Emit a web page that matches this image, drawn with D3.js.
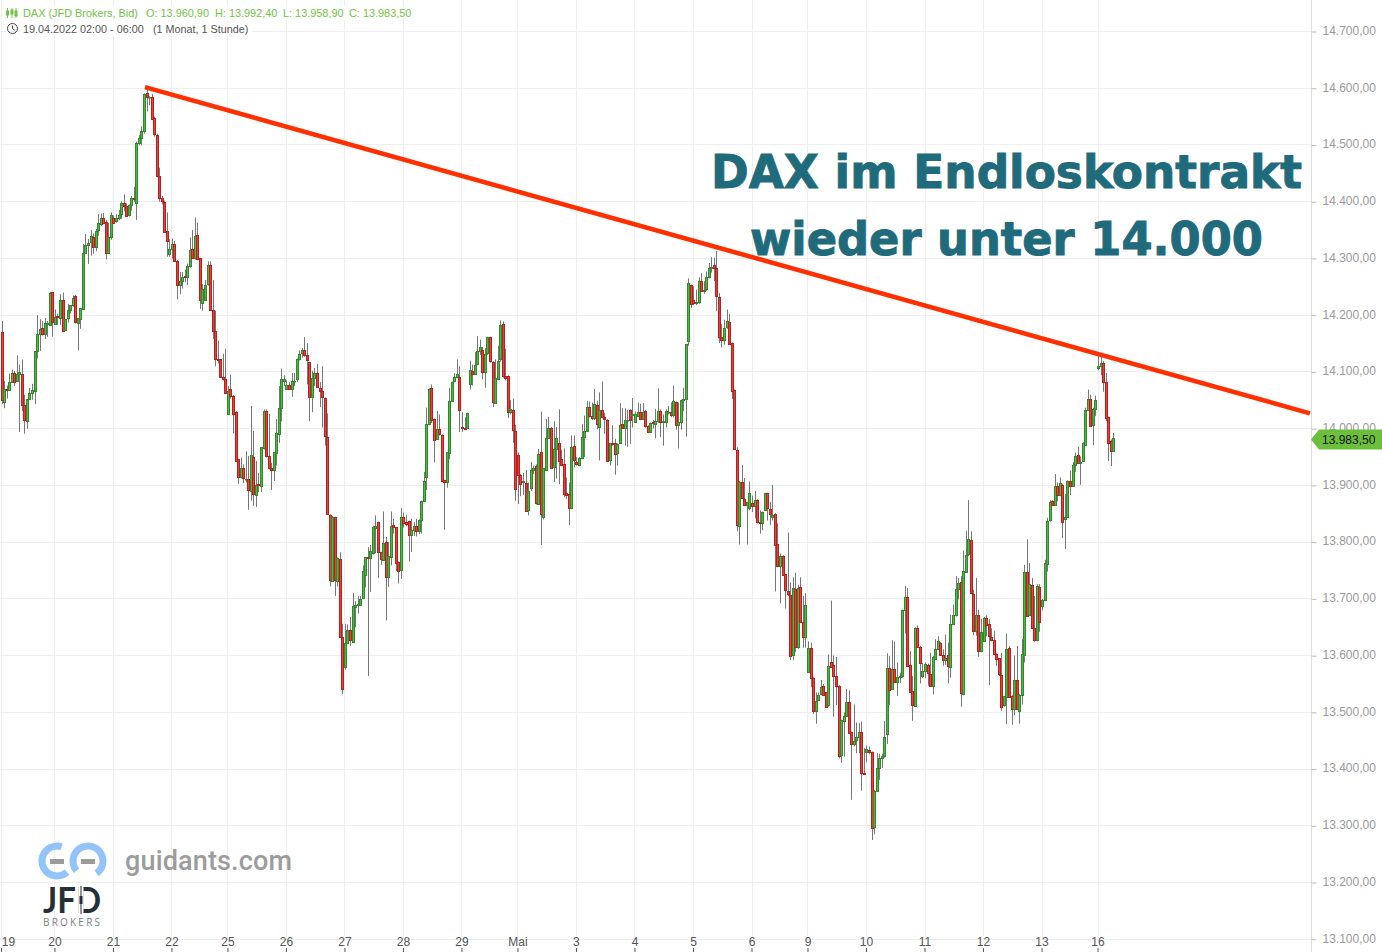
<!DOCTYPE html>
<html><head><meta charset="utf-8">
<script src="https://cdn.jsdelivr.net/npm/d3@7"></script>
<style>html,body{margin:0;padding:0;background:#fff;overflow:hidden}svg{display:block}</style>
</head><body><svg id="c" width="1382" height="952"></svg>
<script>
// each row: [open, high, low, close]
const apr19=[[14170,14190,14043,14050],[14047,14084,14036,14070],[14070,14076,14053,14068],[14068,14097,14068,14082],[14082,14104,14081,14098],[14098,14102,14075,14083],[14083,14129,14083,14096],[14096,14113,13994,14100],[14096,14122,14031,14041],[14041,14060,13991,14015],[14013,14052,14000,14052],[14052,14072,14051,14063],[14063,14079,14051,14068],[14066,14137,14043,14137],[14137,14200,14124,14167],[14167,14193,14137,14176],[14177,14190,14164,14167],[14167,14195,14158,14186],[14186,14190,14162,14187],[14183,14241,14183,14239],[14240,14241,14162,14187]];
const apr20=[[14183,14210,14183,14196],[14198,14203,14183,14197],[14196,14237,14183,14227],[14227,14240,14173,14173],[14173,14193,14173,14193],[14196,14220,14187,14210],[14210,14218,14203,14218],[14218,14235,14215,14231],[14234,14236,14185,14189],[14187,14195,14138,14195],[14193,14212,14176,14212],[14212,14326,14212,14310],[14310,14343,14309,14324],[14324,14334,14290,14328],[14328,14350,14305,14339],[14337,14344,14308,14320],[14319,14352,14313,14348],[14350,14378,14340,14362],[14362,14379,14357,14372],[14372,14380,14360,14364],[14364,14368,14298,14310],[14309,14363,14308,14338],[14338,14381,14333,14376]];
const apr21=[[14372,14376,14362,14364],[14366,14378,14363,14372],[14372,14385,14368,14377],[14377,14401,14370,14397],[14397,14413,14383,14392],[14393,14397,14375,14376],[14376,14395,14374,14394],[14394,14410,14384,14406],[14407,14426,14400,14405],[14398,14506,14368,14503],[14503,14518,14499,14512],[14512,14533,14499,14524],[14524,14591,14520,14589],[14591,14603,14559,14584],[14584,14586,14570,14584],[14584,14590,14545,14546],[14547,14550,14515,14518],[14517,14520,14443,14445],[14445,14460,14400,14407],[14407,14410,14395,14401],[14400,14402,14345,14348],[14348,14381,14303,14331],[14309,14334,14303,14317]];
const apr22=[[14317,14335,14300,14326],[14326,14331,14296,14296],[14296,14297,14228,14254],[14254,14276,14237,14261],[14261,14276,14247,14268],[14269,14280,14258,14267],[14267,14291,14253,14287],[14287,14337,14284,14315],[14317,14350,14299,14301],[14301,14372,14298,14339],[14341,14363,14297,14298],[14300,14301,14211,14226],[14222,14255,14208,14247],[14227,14262,14225,14254],[14254,14295,14252,14288],[14289,14295,14208,14210],[14210,14262,14158,14173],[14172,14208,14110,14123],[14123,14155,14115,14122],[14122,14123,14090,14091],[14091,14132,14085,14087],[14087,14141,14062,14063]];
const apr25=[[14026,14075,14025,14066],[14070,14095,14053,14057],[14058,14059,13992,14026],[14030,14031,13942,13943],[13946,13947,13903,13915],[13914,13949,13912,13930],[13930,13937,13904,13912],[13912,13960,13905,13912],[13912,13952,13857,13892],[13889,14040,13873,13953],[13950,13996,13864,13884],[13883,13943,13862,13901],[13902,13922,13888,13900],[13898,13967,13888,13967],[13967,14034,13963,14032],[14031,14034,13949,13951],[13952,14026,13928,13930],[13930,13940,13892,13926],[13926,13958,13908,13958],[13958,14017,13935,13993],[13992,14075,13975,14037],[14037,14106,14013,14088],[14085,14094,14075,14088]];
const apr26=[[14070,14085,14068,14077],[14077,14082,14068,14070],[14070,14098,14056,14084],[14084,14098,14075,14084],[14088,14124,14082,14123],[14123,14138,14120,14132],[14133,14142,14125,14138],[14138,14161,14127,14129],[14129,14151,14078,14120],[14117,14118,14013,14056],[14055,14102,14029,14089],[14089,14107,14075,14098],[14098,14114,14072,14073],[14072,14082,14038,14066],[14066,14110,14002,14056],[14054,14055,13970,13987],[13986,14027,13849,13851],[13848,13849,13722,13733],[13733,13846,13732,13845],[13844,13845,13705,13733],[13732,13773,13722,13772],[13770,13782,13632,13633],[13633,13656,13532,13541]];
const apr27=[[13580,13656,13575,13622],[13622,13655,13620,13645],[13645,13668,13617,13628],[13624,13710,13623,13687],[13687,13696,13650,13690],[13690,13705,13674,13691],[13690,13705,13688,13700],[13701,13759,13700,13749],[13741,13774,13720,13773],[13774,13791,13564,13772],[13772,13795,13712,13784],[13781,13829,13778,13826],[13826,13847,13780,13829],[13835,13836,13737,13783],[13782,13783,13760,13769],[13768,13854,13767,13798],[13800,13809,13662,13738],[13738,13800,13721,13775],[13775,13854,13759,13829],[13831,13841,13815,13827],[13826,13827,13749,13763],[13765,13766,13727,13749],[13750,13860,13735,13844]];
const apr28=[[13845,13852,13826,13835],[13836,13848,13828,13833],[13837,13838,13766,13813],[13813,13841,13783,13821],[13821,13835,13811,13828],[13828,13841,13810,13819],[13819,13840,13814,13839],[13839,13873,13815,13872],[13872,13924,13871,13908],[13916,14037,13892,14009],[14008,14071,14006,14070],[14072,14078,14010,14015],[14017,14018,13941,13980],[13982,14031,13981,14000],[14000,14025,13988,13992],[13989,13990,13906,13908],[13909,13910,13822,13905],[13905,13958,13896,13958],[13958,14072,13946,14049],[14049,14083,14047,14082],[14084,14098,14082,14091],[14091,14122,14089,14096],[14091,14110,13994,14033]];
const apr29=[[14003,14029,13994,14002],[14002,14020,13998,14001],[14002,14028,14001,14028],[14078,14120,14069,14103],[14102,14113,14076,14096],[14096,14135,14095,14112],[14114,14163,14112,14137],[14137,14157,14130,14144],[14138,14144,14087,14100],[14101,14142,14072,14132],[14132,14162,14130,14161],[14161,14162,14116,14118],[14118,14119,14038,14047],[14045,14122,14044,14089],[14089,14146,14088,14120],[14122,14191,14118,14182],[14184,14189,14090,14092],[14092,14141,14085,14089],[14092,14094,14019,14028],[14028,14050,14025,14034],[14033,14053,13975,13998],[13995,14007,13873,13892]];
const may2=[[13954,13958,13867,13918],[13918,13920,13881,13903],[13905,13922,13883,13907],[13905,13927,13855,13856],[13856,13905,13847,13890],[13895,13941,13890,13927],[13927,13935,13920,13930],[13934,13937,13866,13868],[13868,13964,13867,13956],[13959,14030,13795,13850],[13844,13931,13840,13930],[13928,14017,13926,13984],[13984,14021,13982,14002],[14002,14003,13930,13931],[13933,14013,13906,13965],[13965,14003,13912,13984],[13974,14034,13902,13943],[13947,13963,13934,13937],[13937,13965,13879,13885],[13886,13914,13876,13883],[13884,13905,13830,13859],[13860,13988,13858,13967],[13969,13988,13932,13944]];
const may3=[[13941,13950,13935,13938],[13935,13950,13934,13948],[13948,14008,13946,13985],[13985,14023,13950,13995],[13995,14049,13994,14038],[14038,14048,14020,14023],[14022,14046,14015,14018],[14020,14070,14015,14044],[14042,14049,13999,14009],[14003,14064,13944,14033],[14033,14083,14018,14020],[14020,14028,13991,14016],[14016,14017,13943,13944],[13944,13975,13935,13974],[13974,14006,13970,13973],[13974,13982,13919,13955],[13957,13974,13935,13973],[13975,14045,13973,14007],[14009,14036,14001,14002],[14002,14036,13970,14016],[14016,14033,13968,14016],[14033,14034,13973,14015],[14024,14054,14002,14026]];
const may4=[[14012,14030,14010,14026],[14023,14046,14022,14030],[14030,14044,14016,14018],[14018,14045,14016,14030],[14031,14033,14002,14004],[14005,14006,13992,13995],[13995,14011,13993,14010],[14011,14015,14000,14009],[14007,14035,13983,14013],[14013,14071,14010,14031],[14031,14034,13985,14012],[14012,14025,13970,14014],[14012,14034,14002,14031],[14029,14040,14025,14029],[14029,14046,14020,14023],[14023,14076,14020,14048],[14047,14048,13998,14007],[14006,14046,13965,14012],[14013,14051,13998,14051],[14051,14072,14031,14053],[14052,14149,13986,14149],[14153,14265,14146,14256],[14253,14254,14213,14219]];
const may5=[[14226,14251,14218,14220],[14221,14245,14218,14223],[14223,14267,14220,14260],[14260,14274,14241,14243],[14243,14260,14238,14245],[14246,14277,14243,14267],[14267,14292,14265,14283],[14283,14302,14275,14285],[14288,14301,14260,14283],[14284,14313,14207,14234],[14232,14239,14151,14162],[14162,14184,14143,14156],[14156,14192,14148,14178],[14178,14210,14176,14189],[14188,14202,14148,14150],[14151,14152,14052,14067],[14068,14069,13963,13964],[13963,13967,13819,13831],[13829,13908,13796,13906],[13906,13936,13876,13878],[13876,13913,13864,13865],[13865,13871,13796,13871],[13859,13907,13856,13886]];
const may6=[[13869,13882,13853,13864],[13864,13890,13842,13875],[13875,13876,13833,13836],[13836,13856,13815,13834],[13834,13854,13821,13853],[13856,13887,13855,13886],[13886,13887,13838,13859],[13859,13871,13830,13850],[13844,13901,13838,13848],[13850,13851,13713,13795],[13797,13833,13756,13758],[13758,13780,13692,13776],[13776,13777,13741,13743],[13743,13744,13683,13714],[13713,13817,13705,13707],[13706,13729,13592,13599],[13601,13738,13592,13719],[13717,13746,13606,13615],[13615,13725,13612,13719],[13721,13738,13658,13659],[13659,13705,13614,13633],[13633,13710,13614,13689]];
const may9=[[13572,13625,13570,13614],[13614,13623,13544,13561],[13561,13562,13497,13502],[13502,13535,13480,13520],[13522,13535,13520,13531],[13532,13557,13530,13545],[13547,13550,13530,13532],[13535,13536,13508,13509],[13512,13602,13510,13581],[13589,13697,13580,13581],[13583,13600,13492,13564],[13564,13598,13513,13547],[13547,13548,13419,13424],[13424,13487,13411,13486],[13486,13500,13422,13494],[13494,13541,13493,13519],[13519,13539,13464,13465],[13465,13466,13346,13444],[13444,13514,13440,13449],[13450,13482,13428,13456],[13456,13481,13428,13465],[13466,13484,13362,13393],[13393,13437,13391,13392]];
const may10=[[13430,13442,13412,13436],[13434,13440,13426,13431],[13430,13431,13275,13296],[13298,13363,13285,13362],[13362,13428,13361,13402],[13402,13427,13381,13420],[13420,13427,13402,13423],[13423,13485,13420,13456],[13463,13604,13444,13579],[13579,13599,13513,13540],[13542,13627,13540,13577],[13577,13625,13552,13554],[13554,13588,13529,13563],[13563,13570,13552,13564],[13564,13681,13561,13681],[13680,13723,13639,13703],[13703,13719,13581,13582],[13584,13608,13535,13537],[13537,13564,13485,13512],[13512,13650,13510,13649],[13649,13653,13614,13616],[13616,13617,13551,13588],[13564,13587,13560,13572]];
const may11=[[13573,13588,13560,13586],[13584,13586,13547,13570],[13568,13605,13545,13547],[13547,13599,13532,13598],[13595,13629,13593,13612],[13612,13634,13610,13626],[13623,13624,13600,13601],[13601,13611,13582,13592],[13592,13637,13584,13596],[13601,13623,13551,13581],[13581,13672,13561,13656],[13656,13690,13654,13671],[13671,13740,13669,13717],[13717,13737,13699,13728],[13730,13740,13510,13535],[13533,13785,13530,13750],[13748,13820,13746,13778],[13778,13874,13775,13805],[13803,13819,13708,13709],[13709,13716,13636,13643],[13643,13737,13635,13672],[13672,13681,13598,13608],[13608,13665,13606,13642]];
const may12=[[13627,13668,13625,13667],[13667,13671,13634,13654],[13655,13664,13548,13633],[13633,13648,13625,13627],[13628,13644,13602,13603],[13603,13604,13582,13595],[13595,13596,13564,13566],[13566,13605,13503,13509],[13512,13529,13510,13528],[13528,13639,13479,13612],[13614,13617,13527,13528],[13529,13530,13478,13506],[13506,13600,13495,13557],[13557,13617,13504,13506],[13502,13532,13480,13531],[13530,13629,13514,13603],[13601,13760,13588,13747],[13748,13805,13669,13670],[13671,13763,13670,13726],[13724,13737,13648,13649],[13648,13705,13624,13626],[13627,13726,13625,13723],[13721,13726,13642,13660]];
const may13=[[13687,13700,13680,13698],[13698,13769,13696,13763],[13763,13843,13748,13838],[13838,13874,13836,13870],[13872,13874,13864,13865],[13865,13920,13864,13899],[13899,13905,13872,13884],[13884,13914,13881,13905],[13901,13903,13807,13835],[13842,13885,13788,13845],[13845,13909,13844,13908],[13908,13926,13883,13899],[13899,13941,13898,13936],[13936,13958,13924,13952],[13954,13968,13939,13940],[13940,13951,13901,13941],[13943,13976,13942,13975],[13972,14037,13971,14033],[14034,14069,14032,14053],[14053,14060,14003,14005],[14006,14037,13971,14034],[14036,14058,14022,14051]];
const may16=[[14107,14135,14103,14111],[14110,14127,14094,14115],[14116,14119,14065,14082],[14082,14098,14013,14019],[14020,14021,13943,13975],[13978,13981,13934,13961],[13960.9,13992.4,13958.9,13983.5]];

const days=[apr19,apr20,apr21,apr22,apr25,apr26,apr27,apr28,apr29,may2,may3,may4,may5,may6,may9,may10,may11,may12,may13,may16];
const dayLabels=["19","20","21","22","25","26","27","28","29","Mai","3","4","5","6","9","10","11","12","13","16"];
const dayStarts=[0,21,44,67,89,112,135,158,181,203,226,249,272,295,317,340,363,386,409,431];
const priceTicks=[14700,14600,14500,14400,14300,14200,14100,14000,13900,13800,13700,13600,13500,13400,13300,13200,13100];
const trendIdx=[56.4,514.3];
const trendPrice=[14602,14027];
const lastPrice=13983.5;
const headerParts=["DAX (JFD Brokers, Bid)","O: 13.960,90","H: 13.992,40","L: 13.958,90","C: 13.983,50"];
const headerX=[23,146,215,283,349];
const titleLines=["DAX im Endloskontrakt","wieder unter 14.000"];

const GREEN=["#53b544","#2f8a2c"],RED=["#e8403f","#b9201c"];
const svg=d3.select("#c");
const x=d3.scaleLinear().domain([0,431]).range([1.5,1098]);
const y=d3.scaleLinear().domain([13100,14700]).range([939.3,31.5]);
const de=d3.formatLocale({decimal:",",thousands:".",grouping:[3],currency:["","€"]}).format(",.2f");
const FONT="'Liberation Sans',Arial,sans-serif";
const AXIS_X=1311.5;

// grid
const grid=svg.append("g").attr("stroke","#eeeeee").attr("stroke-width",1);
grid.selectAll(".h").data(priceTicks).join("line").attr("x1",0).attr("x2",AXIS_X)
  .attr("y1",d=>Math.floor(y(d))+.5).attr("y2",d=>Math.floor(y(d))+.5);
grid.selectAll(".v").data(dayStarts).join("line").attr("y1",0).attr("y2",939)
  .attr("x1",d=>Math.floor(x(d))+.5).attr("x2",d=>Math.floor(x(d))+.5);

// price axis
const ay=svg.append("g").attr("transform",`translate(${AXIS_X},0)`)
  .call(d3.axisRight(y).tickValues(priceTicks).tickFormat(de).tickSize(5).tickPadding(6));
ay.select(".domain").attr("stroke","#dddddd").attr("d","M0,0V952");
ay.selectAll("line").attr("stroke","#bbbbbb");
ay.selectAll("text").attr("fill","#9a9a9a").attr("y",-1).style("font","12px "+FONT);

// day axis
const ax=svg.append("g").attr("transform","translate(-0.5,948)")
  .call(d3.axisBottom(x).tickValues(dayStarts).tickFormat((d,i)=>dayLabels[i]).tickSize(4));
ax.select(".domain").remove();
ax.selectAll("line").attr("stroke","#555");
ax.selectAll("text").attr("fill","#555").attr("y",-2).attr("dy",0).style("font","12px "+FONT)
  .attr("dx",(d,i)=>i===0?7:0);

// candles (snapped to the pixel grid)
const rows=days.flatMap((rowsOfDay,k)=>rowsOfDay.map((r,j)=>({i:dayStarts[k]+j,o:r[0],h:r[1],l:r[2],c:r[3]})));
const px=d=>Math.round(x(d.i));
const candles=svg.append("g");
candles.selectAll("line").data(rows).join("line")
  .attr("x1",d=>px(d)+.5).attr("x2",d=>px(d)+.5).attr("y1",d=>y(d.h)).attr("y2",d=>y(d.l))
  .attr("stroke","#777").attr("stroke-width",1);
candles.selectAll("rect").data(rows).join("rect")
  .attr("x",d=>px(d)-.5).attr("width",2)
  .attr("y",d=>Math.round(y(Math.max(d.o,d.c)))+.5).attr("height",d=>Math.max(.5,Math.round(Math.abs(y(d.o)-y(d.c)))))
  .attr("fill",d=>d.c>=d.o?GREEN[0]:RED[0]).attr("stroke",d=>d.c>=d.o?GREEN[1]:RED[1]).attr("stroke-width",1);

// trend line
svg.append("line").attr("x1",x(trendIdx[0])).attr("y1",y(trendPrice[0])).attr("x2",x(trendIdx[1])).attr("y2",y(trendPrice[1]))
  .attr("stroke","#ff2f00").attr("stroke-width",4.6);

// price tag
const ty=y(lastPrice)+1.5;
svg.append("path").attr("d",`M1311,${ty}L1319,${ty-10}H1382V${ty+10}H1319Z`).attr("fill","#6cbf3a");
svg.append("text").attr("x",1322).attr("y",ty+4.5).attr("fill","#111").style("font","12px "+FONT).text(de(lastPrice));

// header
svg.append("rect").attr("x",20).attr("y",6).attr("width",394).attr("height",14).attr("fill","#fff");
svg.append("rect").attr("x",20).attr("y",22).attr("width",232).attr("height",14).attr("fill","#fff");
svg.selectAll(".hdr").data(headerParts).join("text").attr("x",(d,i)=>headerX[i]).attr("y",17)
  .attr("fill","#72c244").style("font","10.9px "+FONT).text(d=>d);
svg.append("text").attr("x",23).attr("y",33).attr("fill","#555").style("font","10.8px "+FONT)
  .text("19.04.2022 02:00 - 06:00");
svg.append("text").attr("x",153).attr("y",33).attr("fill","#555").style("font","10.8px "+FONT).text("(1 Monat, 1 Stunde)");
const ic=svg.append("g").attr("stroke","#72c244").attr("fill","none");
[[7.5,8,18,11,15],[12,8,18,10,14],[16,8,18,11,16]].forEach(a=>{
  ic.append("line").attr("x1",a[0]).attr("x2",a[0]).attr("y1",a[1]).attr("y2",a[2]);
  ic.append("rect").attr("x",a[0]-1).attr("width",2).attr("y",a[3]).attr("height",a[4]-a[3]).attr("fill","#72c244");
});
const ck=svg.append("g").attr("stroke","#444").attr("fill","none").attr("stroke-width",1);
ck.append("circle").attr("cx",12.5).attr("cy",28.5).attr("r",5);
ck.append("path").attr("d","M12.5,25.5V28.5L14.8,30.3");

// title
svg.selectAll(".ttl").data(titleLines).join("text")
  .attr("x",1006.5).attr("y",(d,i)=>i?255:188).attr("text-anchor","middle")
  .attr("textLength",(d,i)=>i?513:591).attr("lengthAdjust","spacingAndGlyphs")
  .attr("fill","#1f6b7c").attr("stroke","#1f6b7c").attr("stroke-width",1)
  .style("font","bold 47px 'DejaVu Sans',Verdana,sans-serif").text(d=>d);

// logos
const arc=d3.arc();
const rad=a=>a*Math.PI/180;
const logo=svg.append("g").attr("fill","#92c3fb");
logo.append("path").attr("transform","translate(57,861)").attr("d",arc({innerRadius:11.5,outerRadius:18.5,startAngle:rad(-222),endAngle:rad(18)}));
logo.append("path").attr("transform","translate(88,861)").attr("d",arc({innerRadius:11.5,outerRadius:18.5,startAngle:rad(-130),endAngle:rad(145)}));
svg.append("rect").attr("x",50).attr("y",859).attr("width",14).attr("height",5).attr("fill","#9b9b9b");
svg.append("rect").attr("x",81).attr("y",859).attr("width",14).attr("height",5).attr("fill","#9b9b9b");
svg.append("text").attr("x",125).attr("y",870).attr("textLength",167).attr("fill","#9c9c9c").style("font","500 27px Roboto,sans-serif").text("guidants.com");
svg.append("text").attr("x",43).attr("y",913).attr("textLength",58).attr("lengthAdjust","spacingAndGlyphs")
  .attr("fill","#272f36").style("font","700 36px Lato,sans-serif").text("JFD");
svg.append("rect").attr("x",78.5).attr("y",886).attr("width",5).attr("height",28).attr("fill","#fff");
svg.append("rect").attr("x",80.5).attr("y",886).attr("width",1).attr("height",28).attr("fill","#272f36");
svg.append("rect").attr("x",79.5).attr("y",896).attr("width",3).attr("height",8).attr("fill","#272f36");
svg.append("text").attr("x",43).attr("y",926).attr("textLength",57).attr("fill","#7b7f83").style("font","10px 'Open Sans',sans-serif").text("BROKERS");
</script></body></html>
